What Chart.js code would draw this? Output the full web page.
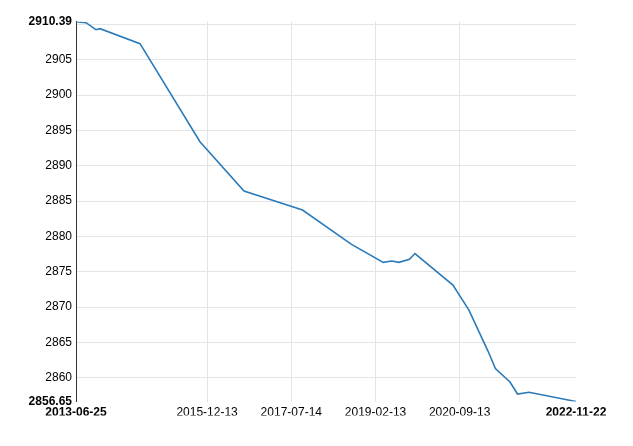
<!DOCTYPE html>
<html>
<head>
<meta charset="utf-8">
<script src="https://cdn.jsdelivr.net/npm/chart.js@4/dist/chart.umd.min.js"></script>
<style>
  html, body { margin: 0; padding: 0; background: #fff; }
  #wrap { width: 633px; height: 446px; position: relative; }
</style>
</head>
<body>
<div id="wrap"><canvas id="c"></canvas></div>
<script>
// ---- data ----
const dates = [
  '2013-06-25', '2013-09-02', '2013-11-09', '2013-12-07', '2014-09-08',
  '2015-10-25', '2016-08-23', '2017-09-29', '2018-09-01', '2019-04-07',
  '2019-06-04', '2019-07-24', '2019-10-04', '2019-11-11', '2020-07-29',
  '2020-11-16', '2021-03-27', '2021-05-17', '2021-08-25', '2021-10-16',
  '2022-01-03', '2022-11-22'
];
const values = [
  2910.39, 2910.25, 2909.26, 2909.40, 2907.28,
  2893.41, 2886.43, 2883.75, 2878.89, 2876.34,
  2876.52, 2876.34, 2876.77, 2877.59, 2873.13,
  2869.59, 2863.79, 2861.32, 2859.41, 2857.71,
  2857.95, 2856.65
];
const xTickDates = ['2015-12-13', '2017-07-14', '2019-02-13', '2020-09-13'];
const yTickValues = [2860, 2865, 2870, 2875, 2880, 2885, 2890, 2895, 2900, 2905, 2910];
const yMin = 2856.65;
const yMax = 2910.39;

// ---- derived ----
const toMs = s => Date.parse(s + 'T00:00:00Z');
const points = dates.map((d, i) => ({ x: toMs(d), y: values[i] }));
const xMin = toMs(dates[0]);
const xMax = toMs(dates[dates.length - 1]);
const fmt = ms => new Date(ms).toISOString().slice(0, 10);
const FONT = "'Liberation Sans', Arial, sans-serif";
const GRID = '#e4e4e4';

new Chart(document.getElementById('c'), {
  type: 'line',
  data: {
    datasets: [{
      data: points,
      borderColor: '#2b7bba',
      borderWidth: 1.6,
      pointRadius: 0,
      tension: 0,
      fill: false
    }]
  },
  options: {
    responsive: true,
    maintainAspectRatio: false,
    animation: false,
    parsing: false,
    layout: { padding: { top: 21.7, right: 57, bottom: 30.5, left: 0 } },
    plugins: { legend: { display: false }, tooltip: { enabled: false } },
    scales: {
      x: {
        type: 'linear',
        min: xMin,
        max: xMax,
        afterBuildTicks: s => {
          s.ticks = [xMin, ...xTickDates.map(toMs), xMax].map(v => ({ value: v }));
        },
        afterFit: s => { s.height = 14; },
        border: { display: false },
        grid: {
          drawTicks: false,
          color: c => (c.tick && (c.tick.value === xMin || c.tick.value === xMax)) ? 'rgba(0,0,0,0)' : GRID,
          lineWidth: 1
        },
        ticks: {
          autoSkip: false,
          maxRotation: 0,
          minRotation: 0,
          padding: 4,
          color: '#000',
          font: c => ({
            family: FONT, size: 12,
            weight: (c.tick && (c.tick.value === xMin || c.tick.value === xMax)) ? 'bold' : 'normal'
          }),
          callback: v => fmt(v)
        }
      },
      y: {
        type: 'linear',
        min: yMin,
        max: yMax,
        afterBuildTicks: s => {
          s.ticks = [yMin, ...yTickValues, yMax].map(v => ({ value: v }));
        },
        afterFit: s => { s.width = 76; },
        border: { display: true, color: '#333', width: 1 },
        grid: {
          drawTicks: false,
          color: c => (c.tick && (c.tick.value === yMin || c.tick.value === yMax)) ? 'rgba(0,0,0,0)' : GRID,
          lineWidth: 1
        },
        ticks: {
          autoSkip: false,
          padding: 4,
          color: '#000',
          font: c => ({
            family: FONT, size: 12,
            weight: (c.tick && (c.tick.value === yMin || c.tick.value === yMax)) ? 'bold' : 'normal'
          }),
          callback: v => {
            if (v === yMin || v === yMax) return v.toFixed(2);
            if (Math.abs(v - yMax) < 2 || Math.abs(v - yMin) < 2) return '';
            return String(v);
          }
        }
      }
    }
  }
});
</script>
</body>
</html>
